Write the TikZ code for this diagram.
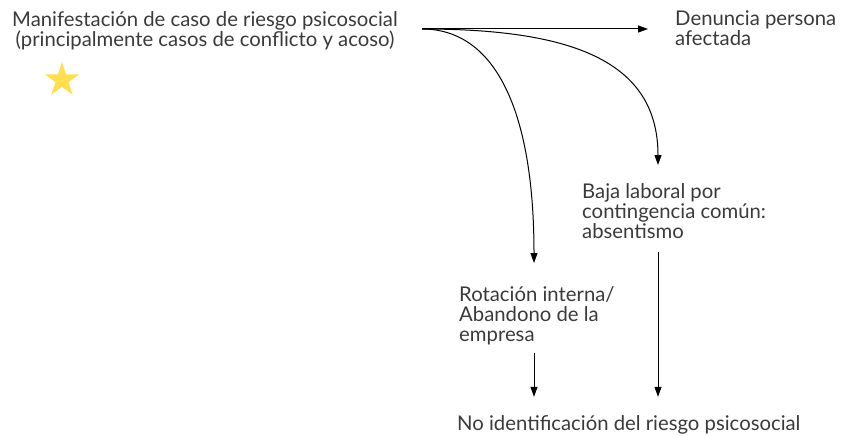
\documentclass[tikz,border=0pt]{standalone}
\usepackage{fontspec}
\setmainfont{Lato}
\usetikzlibrary{shapes.geometric}
\usetikzlibrary{arrows.meta}
\usetikzlibrary{calc}
\definecolor{textgray}{HTML}{3A3A3A}
\definecolor{staryellow}{HTML}{FFDF4F}
\tikzset{
	labelstyle/.style={inner sep=0,text=textgray,font=\fontsize{20.3}{20}\selectfont,align=left},
	arrowstyle/.style={-{Triangle[width=7pt,length=10pt]},line width=1pt},
	starstyle/.style={star,star points=5,star point ratio=2.618,minimum size=36pt,inner sep=0,fill=staryellow}
}

\begin{document}
\begin{tikzpicture}[x=1pt,y=-1pt]
	\useasboundingbox (0,0) rectangle (846,436);
	\node[labelstyle,align=center,anchor=base] (manif) at (205,46.5) {Manifestación de caso de riesgo psicosocial\\(principalmente casos de conflicto y acoso)};
	\node[starstyle] (star) at (62,80) {};
	\node[labelstyle,anchor=base west] (denuncia) at (675,45.5) {Denuncia persona\\afectada};
	\node[labelstyle,anchor=base west] (baja) at (582,238) {Baja laboral por\\contingencia común:\\absentismo};
	\node[labelstyle,anchor=base west] (rotacion) at (459,341) {Rotación interna/\\Abandono de la\\empresa};
	\node[labelstyle,anchor=base west] (noident) at (457,430) {No identificación del riesgo psicosocial};
	\coordinate (src) at (422,29);
	\coordinate (bajain) at (658,165);
	\coordinate (rotin) at (534,263);
	\draw[arrowstyle,shorten >=27pt] (src)--(src -| denuncia.west);
	\draw[arrowstyle] (src) .. controls (570,29) and (658,60) .. (bajain);
	\draw[arrowstyle] (src) .. controls (495,29) and (534,110) .. (rotin);
	\draw[arrowstyle] ($(baja.south -| bajain)+(0,14)$) -- ($(noident.north -| bajain)+(0,-18)$);
	\draw[arrowstyle] ($(rotacion.south -| rotin)+(0,8)$) -- ($(noident.north -| rotin)+(0,-18)$);
\end{tikzpicture}
\end{document}
